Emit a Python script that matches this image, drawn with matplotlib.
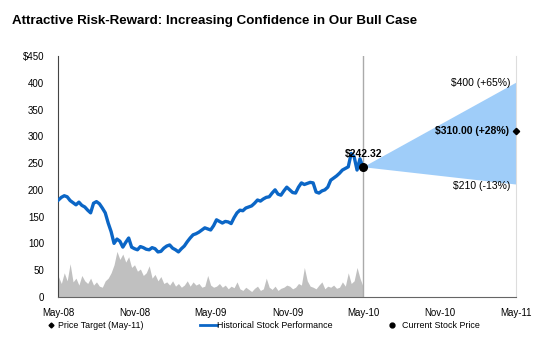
import matplotlib
matplotlib.use("Agg")
import matplotlib.pyplot as plt
from matplotlib.lines import Line2D
import pandas as pd

plt.rcParams['font.family'] = ['Liberation Sans', 'DejaVu Sans']

# weekly closes, May-08 .. Apr-10
price = [181, 186, 189, 187, 180, 176, 172, 177, 171, 168, 162,
         157, 175, 178, 174, 166, 157, 138, 122, 100, 108,
         104, 93, 102, 110, 93, 90, 88, 94, 92, 89,
         88, 92, 90, 84, 85, 91, 95, 97, 91, 88,
         84, 90, 95, 103, 110, 116, 118, 121, 125, 129,
         127, 125, 133, 144, 141, 138, 141, 140, 137, 148,
         157, 162, 161, 166, 168, 170, 175, 181, 179, 183,
         186, 187, 194, 200, 192, 190, 198, 205, 200, 195,
         194, 205, 213, 210, 212, 214, 213, 196, 194, 198,
         200, 205, 218, 222, 226, 231, 237, 240, 243, 268,
         262, 237, 258, 242.32]

# trading volume, drawn on the price scale
volume = [38, 25, 45, 30, 62, 28, 35, 22, 40, 30, 25,
          35, 22, 28, 20, 18, 30, 35, 45, 60, 85,
          70, 80, 65, 75, 55, 60, 48, 52, 40, 45,
          58, 35, 42, 30, 38, 25, 28, 22, 30, 20,
          25, 18, 22, 30, 20, 28, 22, 25, 18, 20,
          40, 22, 18, 20, 25, 18, 22, 15, 20, 17,
          28, 15, 12, 18, 14, 10, 16, 20, 12, 15,
          35, 18, 14, 20, 12, 16, 18, 22, 20, 15,
          18, 25, 22, 55, 30, 20, 18, 15, 22, 28,
          15, 20, 18, 22, 16, 18, 28, 20, 45, 25, 30, 55, 35, 20]

dates = pd.date_range('2008-05-02', periods=len(price), freq='7D')

current_price = 242.32
current_date = pd.Timestamp('2010-05-01')
target_date = pd.Timestamp('2011-05-01')
target_high = 400
target_mid = 310
target_low = 210

xtick_dates = pd.to_datetime(['2008-05-01', '2008-11-01', '2009-05-01',
                              '2009-11-01', '2010-05-01', '2010-11-01',
                              '2011-05-01'])
xtick_labels = ['May-08', 'Nov-08', 'May-09', 'Nov-09', 'May-10', 'Nov-10', 'May-11']
ytick_vals = [0, 50, 100, 150, 200, 250, 300, 350, 400, 450]
ytick_labels = ['0', '50', '100', '150', '200', '250', '300', '350', '400', '$450']

fig = plt.figure(figsize=(5.42, 3.44), dpi=100)
ax = fig.add_axes([0.107, 0.137, 0.845, 0.700])

ax.fill_between(dates, 0, volume, color='#c0c0c0', lw=0, zorder=1)
ax.axvline(current_date, color='#aaaaaa', lw=1, zorder=2)

# valuation fan
ax.fill([current_date, target_date, target_date],
        [current_price, target_high, target_low],
        color='#9fcdf9', lw=0, zorder=2)

ax.plot(dates, price, color='#0b66c6', lw=2.4, zorder=3)
ax.plot([current_date], [current_price], 'o', color='black', ms=5.5, zorder=4)
ax.plot([target_date], [target_mid], 'D', color='black', ms=3.2, zorder=4,
        clip_on=False)

ax.annotate('$242.32', (current_date, current_price), xytext=(0, 9.5),
            textcoords='offset points', ha='center', va='center',
            fontsize=7.5, fontweight='bold', zorder=5)
ax.annotate('$400 (+65%)', (target_date, target_high), xytext=(-4, 0),
            textcoords='offset points', ha='right', va='center', fontsize=7.5)
ax.annotate('$310.00 (+28%)', (target_date, target_mid), xytext=(-5, 0),
            textcoords='offset points', ha='right', va='center',
            fontsize=7.5, fontweight='bold')
ax.annotate('$210 (-13%)', (target_date, target_low), xytext=(-4, -1),
            textcoords='offset points', ha='right', va='center', fontsize=7.5)

ax.set_xlim(pd.Timestamp('2008-05-01'), target_date)
ax.set_ylim(0, 450)
ax.set_xticks(xtick_dates)
ax.set_xticklabels(xtick_labels, fontsize=7)
ax.set_yticks(ytick_vals)
ax.set_yticklabels(ytick_labels, fontsize=7)
ax.tick_params(length=0, pad=8)
ax.tick_params(axis='y', pad=10)

ax.spines['top'].set_visible(False)
ax.spines['left'].set_color('#444444')
ax.spines['bottom'].set_color('#666666')
ax.spines['right'].set_color('#dddddd')

fig.text(0.022, 0.94, 'Attractive Risk-Reward: Increasing Confidence in Our Bull Case',
         fontsize=9.6, fontweight='bold', va='center')

# legend row
ly = 0.055
fig.add_artist(Line2D([51 / 542], [ly], marker='D', ms=2.5, color='black',
                      transform=fig.transFigure))
fig.text(58 / 542, ly, 'Price Target (May-11)', fontsize=6.4, va='center')
fig.add_artist(Line2D([200 / 542, 217 / 542], [ly, ly], color='#0b66c6', lw=2,
                      transform=fig.transFigure))
fig.text(217 / 542, ly, 'Historical Stock Performance', fontsize=6.4, va='center')
fig.add_artist(Line2D([392 / 542], [ly], marker='o', ms=3.5, color='black',
                      transform=fig.transFigure))
fig.text(402 / 542, ly, 'Current Stock Price', fontsize=6.4, va='center')

fig.savefig('out.png', dpi=100)
